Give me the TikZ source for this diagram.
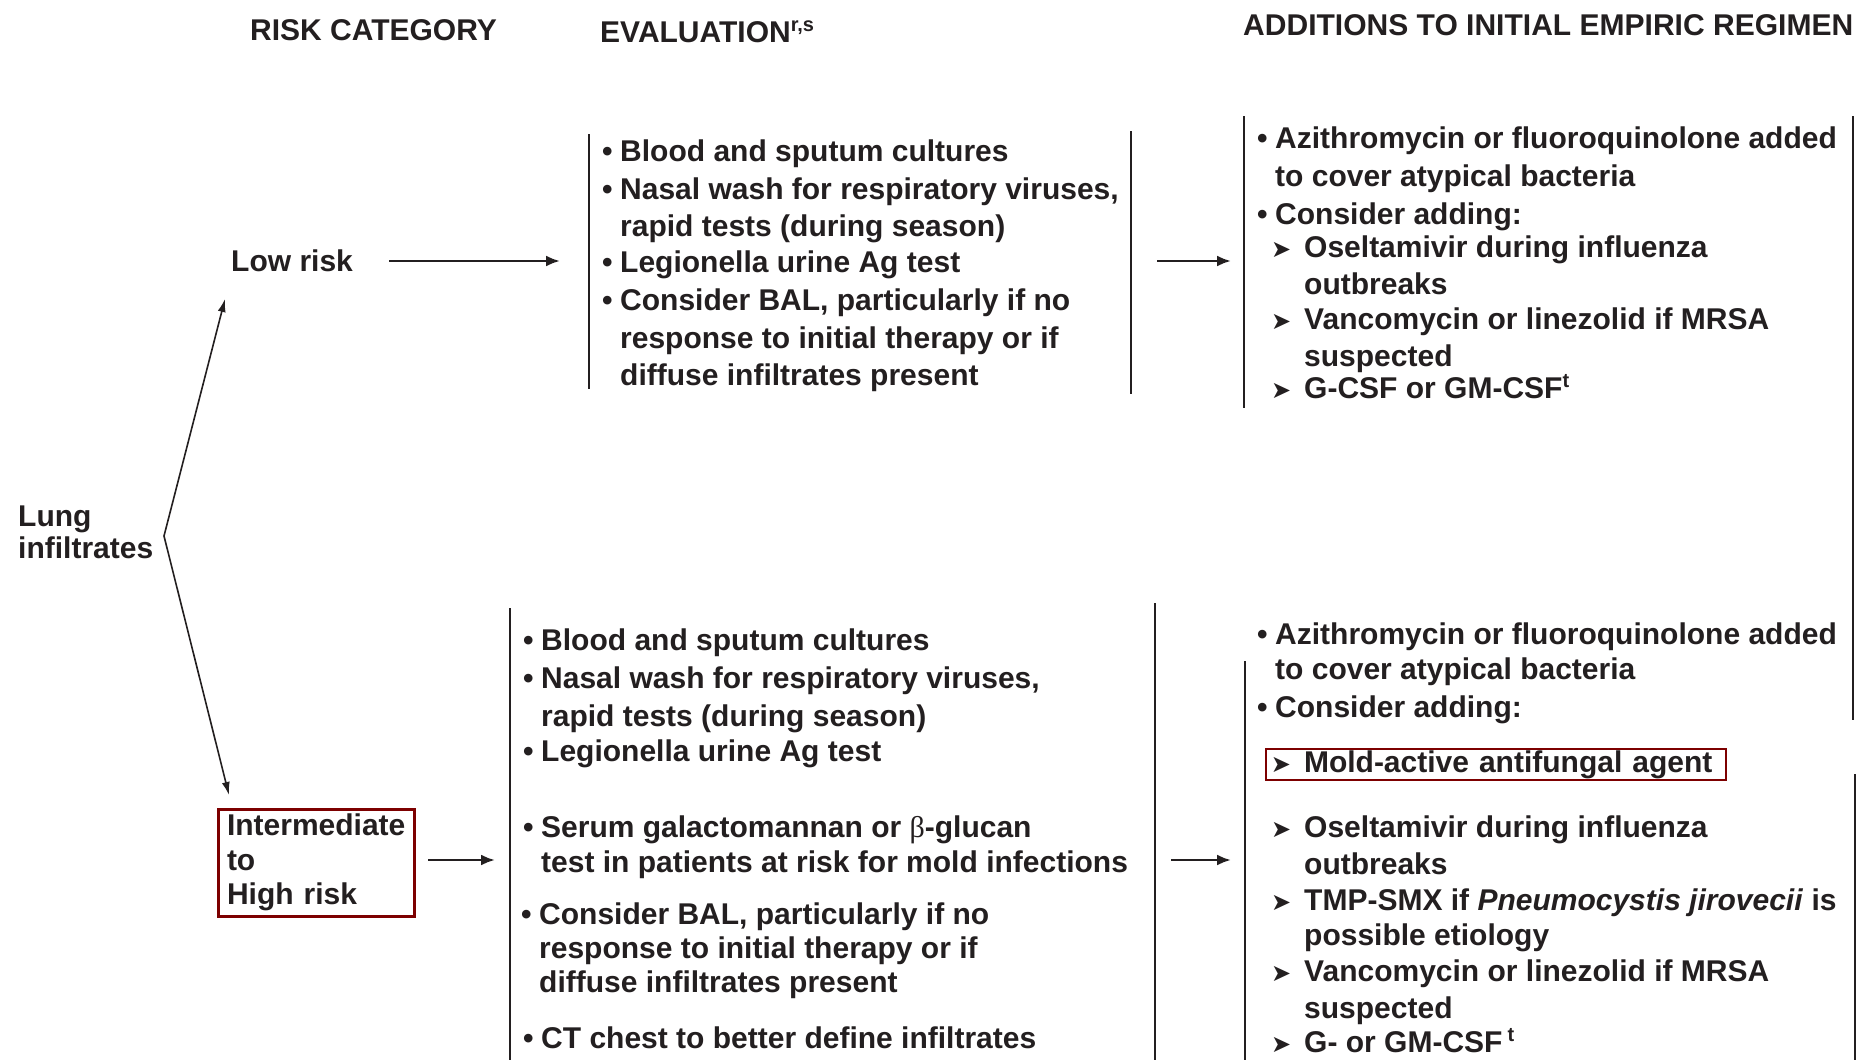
\documentclass[tikz,border=0pt]{standalone}
\usepackage{fontspec}
\usepackage{graphicx}
\setmainfont{Liberation Sans}
\newfontfamily\djv{DejaVu Sans}
\usetikzlibrary{arrows.meta}
\definecolor{ink}{RGB}{35,31,32}
\definecolor{boxred}{RGB}{125,0,0}
\newcommand\mytri{{\djv\fontsize{24}{24}\selectfont ➤}}
\newcommand\mybul{•}
\newcommand\bulL{\llap{\mybul\hspace{7.5pt}}}
\newcommand\triL{\llap{\mytri\hspace{13pt}}}
\newcommand\mysup[1]{\raisebox{11pt}{\fontsize{20}{20}\selectfont #1}}
\begin{document}
\begin{tikzpicture}[x=1pt,y=-1pt,
  tx/.style={anchor=base west, inner sep=0pt, text=ink, font=\bfseries\fontsize{30}{36}\selectfont},
  vline/.style={draw=ink, line width=2pt},
  arr/.style={draw=ink, line width=2.5pt, -{Latex[length=14pt,width=11pt]}},
  darr/.style={draw=ink, line width=1.6pt, -{Latex[length=13pt,width=8pt]}},
  rbox/.style={draw=boxred, inner sep=0pt, text=ink, font=\bfseries\fontsize{30}{34.5}\selectfont}]
\fill[white] (0,0) rectangle (1861,1060);
\useasboundingbox (0,0) rectangle (1861,1060);

% headers
\node[tx] (hrisk) at (250,40) {RISK CATEGORY};
\node[tx] (heval) at (600,42) {EVALUATION\mysup{r,s}};
\node[tx] (hadd) at (1243,35) {\resizebox{610pt}{\height}{ADDITIONS TO INITIAL EMPIRIC REGIMEN}};

% risk categories
\node[tx] (lung1) at (18,526) {Lung};
\node[tx] (lung2) at (18,558) {infiltrates};
\node[tx] (low) at (231,271) {Low risk};
\node[rbox, line width=3pt, minimum width=196pt, minimum height=107pt, text width=178pt, align=left] (inter) at (316,862.5) {Intermediate\\to\\High risk};

\coordinate (fork) at (164,536);
\coordinate (lowtip) at (225,299);
\coordinate (intertip) at (229,795);
\draw[darr] (fork) -- (lowtip);
\draw[darr] (fork) -- (intertip);

% evaluation, low risk
\node[tx] (e1a) at (620,161) {\bulL Blood and sputum cultures};
\node[tx] (e1b) at (620,199) {\bulL Nasal wash for respiratory viruses,};
\node[tx] (e1c) at (620,236) {rapid tests (during season)};
\node[tx] (e1d) at (620,272) {\bulL Legionella urine Ag test};
\node[tx] (e1e) at (620,310) {\bulL Consider BAL, particularly if no};
\node[tx] (e1f) at (620,348) {response to initial therapy or if};
\node[tx] (e1g) at (620,385) {diffuse infiltrates present};
\draw[vline] (589,134) -- (589,389);
\draw[vline] (1131,131) -- (1131,394);

% additions, low risk
\node[tx] (a1a) at (1275,148) {\bulL Azithromycin or fluoroquinolone added};
\node[tx] (a1b) at (1275,186) {to cover atypical bacteria};
\node[tx] (a1c) at (1275,224) {\bulL Consider adding:};
\node[tx] (a1d) at (1304,257) {\triL Oseltamivir during influenza};
\node[tx] (a1e) at (1304,294) {outbreaks};
\node[tx] (a1f) at (1304,329) {\triL Vancomycin or linezolid if MRSA};
\node[tx] (a1g) at (1304,366) {suspected};
\node[tx] (a1h) at (1304,398) {\triL G-CSF or GM-CSF\mysup{t}};
\draw[vline] (1244,116) -- (1244,408);
\draw[vline] (1853,116) -- (1853,720);

% evaluation, intermediate/high risk
\node[tx] (e2a) at (541,650) {\bulL Blood and sputum cultures};
\node[tx] (e2b) at (541,688) {\bulL Nasal wash for respiratory viruses,};
\node[tx] (e2c) at (541,726) {rapid tests (during season)};
\node[tx] (e2d) at (541,761) {\bulL Legionella urine Ag test};
\node[tx] (e2e) at (541,837) {\bulL Serum galactomannan or {\mdseries\fontspec{Liberation Serif}β}-glucan};
\node[tx] (e2f) at (541,872) {test in patients at risk for mold infections};
\node[tx] (e2g) at (539,924) {\bulL Consider BAL, particularly if no};
\node[tx] (e2h) at (539,958) {response to initial therapy or if};
\node[tx] (e2i) at (539,992) {diffuse infiltrates present};
\node[tx] (e2j) at (541,1048) {\bulL CT chest to better define infiltrates};
\draw[vline] (510,608) -- (510,1060);
\draw[vline] (1155,603) -- (1155,1060);

% additions, intermediate/high risk
\node[tx] (a2a) at (1275,644) {\bulL Azithromycin or fluoroquinolone added};
\node[tx] (a2b) at (1275,679) {to cover atypical bacteria};
\node[tx] (a2c) at (1275,717) {\bulL Consider adding:};
\node[rbox, line width=2pt, minimum width=460pt, minimum height=31pt, text width=442pt, align=left] (mold) at (1496,764.5) {\hspace*{29pt}\triL Mold-active antifungal agent};
\node[tx] (a2d) at (1304,837) {\triL Oseltamivir during influenza};
\node[tx] (a2e) at (1304,874) {outbreaks};
\node[tx] (a2f) at (1304,910) {\triL TMP-SMX if \textit{Pneumocystis jirovecii} is};
\node[tx] (a2g) at (1304,945) {possible etiology};
\node[tx] (a2h) at (1304,981) {\triL Vancomycin or linezolid if MRSA};
\node[tx] (a2i) at (1304,1018) {suspected};
\node[tx] (a2j) at (1304,1052) {\triL G- or GM-CSF\,\mysup{t}};
\draw[vline] (1245,661) -- (1245,1060);
\draw[vline] (1855,774) -- (1855,1060);

% connectors
\coordinate (c1s) at (389,261); \coordinate (c1e) at (560,261);
\coordinate (c2s) at (1157,261); \coordinate (c2e) at (1231,261);
\coordinate (c3s) at (428,860); \coordinate (c3e) at (495,860);
\coordinate (c4s) at (1171,860); \coordinate (c4e) at (1231,860);
\draw[arr] (c1s) -- (c1e);
\draw[arr] (c2s) -- (c2e);
\draw[arr] (c3s) -- (c3e);
\draw[arr] (c4s) -- (c4e);
\end{tikzpicture}
\end{document}
